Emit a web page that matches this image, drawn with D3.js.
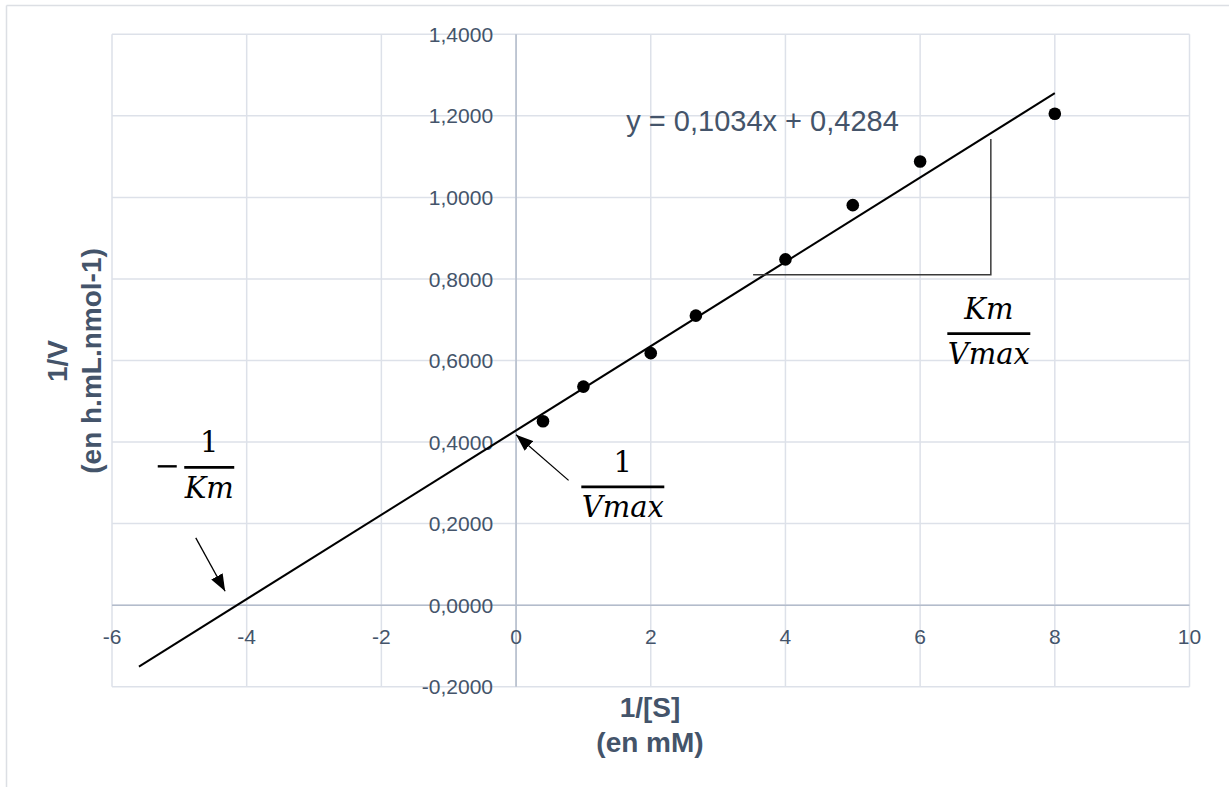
<!DOCTYPE html>
<html><head><meta charset="utf-8">
<script src="https://cdn.jsdelivr.net/npm/d3@7"></script>
<style>html,body{margin:0;padding:0;background:#fff;}</style>
</head><body>
<svg id="chart" width="1229" height="787"></svg>
<script>
// ---- data ----
const invS = [0.4, 1, 2, 2.67, 4, 5, 6, 8];           // 1/[S] (mM^-1)
const invV = [0.451, 0.536, 0.618, 0.710, 0.848, 0.981, 1.088, 1.205]; // 1/V
const slope = 0.1034, intercept = 0.4284;              // trendline y = a x + b
const trendRange = [-5.6, 8];                           // trendline extent (x)
const xTicks = [-6, -4, -2, 0, 2, 4, 6, 8, 10];
const yTicks = [-0.2, 0, 0.2, 0.4, 0.6, 0.8, 1.0, 1.2, 1.4];
const xTitle = ["1/[S]", "(en mM)"];
const yTitle = ["1/V", "(en h.mL.nmol-1)"];
const eqLabel = "y = 0,1034x + 0,4284";

// ---- layout ----
const svg = d3.select("#chart");
const x = d3.scaleLinear().domain([-6, 10]).range([112, 1189.5]);
const y = d3.scaleLinear().domain([-0.2, 1.4]).range([686.7, 34.3]);
const textCol = "#44546a";

// outer chart border (top & left visible)
svg.append("line").attr("x1", 6.5).attr("x2", 1229).attr("y1", 5.5).attr("y2", 5.5)
  .attr("stroke", "#dcdfe4").attr("stroke-width", 1.5);
svg.append("line").attr("x1", 6.5).attr("x2", 6.5).attr("y1", 5.5).attr("y2", 787)
  .attr("stroke", "#dcdfe4").attr("stroke-width", 1.5);

// gridlines
const grid = svg.append("g");
grid.selectAll("line.v").data(xTicks).join("line")
  .attr("x1", d => x(d)).attr("x2", d => x(d))
  .attr("y1", y(1.4)).attr("y2", y(-0.2))
  .attr("stroke", "#dde1e9").attr("stroke-width", 1.5);
grid.selectAll("line.h").data(yTicks).join("line")
  .attr("x1", x(-6)).attr("x2", x(10))
  .attr("y1", d => y(d)).attr("y2", d => y(d))
  .attr("stroke", "#dde1e9").attr("stroke-width", 1.5);
// axes (x = 0, y = 0)
svg.append("line").attr("x1", x(0)).attr("x2", x(0)).attr("y1", y(1.4)).attr("y2", y(-0.2))
  .attr("stroke", "#b3bccb").attr("stroke-width", 1.5);
svg.append("line").attr("x1", x(-6)).attr("x2", x(10)).attr("y1", y(0)).attr("y2", y(0))
  .attr("stroke", "#b3bccb").attr("stroke-width", 1.5);

// tick labels
const fmtY = d => d.toFixed(4).replace(".", ",");
svg.append("g").selectAll("text").data(yTicks).join("text")
  .attr("x", x(0) - 23).attr("y", d => y(d)).attr("dy", "0.36em")
  .attr("text-anchor", "end")
  .style("font", "21px 'Liberation Sans', Arial, sans-serif").attr("fill", textCol)
  .text(fmtY);
svg.append("g").selectAll("text").data(xTicks).join("text")
  .attr("x", d => x(d)).attr("y", y(0) + 38.5)
  .attr("text-anchor", "middle")
  .style("font", "21px 'Liberation Sans', Arial, sans-serif").attr("fill", textCol)
  .text(d => String(d));

// axis titles
const xt = svg.append("text").attr("text-anchor", "middle")
  .style("font", "bold 28px 'Liberation Sans', Arial, sans-serif").attr("fill", textCol);
xt.selectAll("tspan").data(xTitle).join("tspan")
  .attr("x", 650).attr("y", (d, i) => 717 + i * 35).text(d => d);
const yt = svg.append("text").attr("text-anchor", "middle")
  .attr("transform", "translate(0,361) rotate(-90)")
  .style("font", "bold 28px 'Liberation Sans', Arial, sans-serif").attr("fill", textCol);
yt.selectAll("tspan").data(yTitle).join("tspan")
  .attr("x", 0).attr("y", (d, i) => 67 + i * 34).text(d => d);

// trendline
svg.append("line")
  .attr("x1", x(trendRange[0])).attr("y1", y(slope * trendRange[0] + intercept))
  .attr("x2", x(trendRange[1])).attr("y2", y(slope * trendRange[1] + intercept))
  .attr("stroke", "#000").attr("stroke-width", 2);

// points
svg.append("g").selectAll("circle").data(invS).join("circle")
  .attr("cx", d => x(d)).attr("cy", (d, i) => y(invV[i])).attr("r", 6.3).attr("fill", "#000");

// equation label
svg.append("text").attr("x", x(1.637)).attr("y", y(1.164))
  .style("font", "29px 'Liberation Sans', Arial, sans-serif").attr("fill", textCol)
  .text(eqLabel);

// slope triangle
svg.append("path")
  .attr("d", `M${x(3.52)},${y(0.81)} L${x(7.05)},${y(0.81)} L${x(7.05)},${y(1.143)}`)
  .attr("fill", "none").attr("stroke", "#3a3a3a").attr("stroke-width", 1.5);

// arrow marker
svg.append("defs").append("marker").attr("id", "ah")
  .attr("viewBox", "0 0 10 10").attr("refX", 10).attr("refY", 5)
  .attr("markerWidth", 17).attr("markerHeight", 13).attr("markerUnits", "userSpaceOnUse")
  .attr("preserveAspectRatio", "none")
  .attr("orient", "auto")
  .append("path").attr("d", "M0,0 L10,5 L0,10 Z").attr("fill", "#000");

function arrow(from, to) {
  svg.append("line")
    .attr("x1", x(from[0])).attr("y1", y(from[1]))
    .attr("x2", x(to[0])).attr("y2", y(to[1]))
    .attr("stroke", "#000").attr("stroke-width", 1.3)
    .attr("marker-end", "url(#ah)");
}
arrow([0.78, 0.306], [0, 0.418]);
arrow([-4.756, 0.165], [-4.32, 0.034]);

// fractions
const mathFont = "italic 29px 'DejaVu Serif', serif";
function fraction(cx, barY, num, den, halfW, numItalic) {
  const px = x(cx), py = y(barY);
  svg.append("line").attr("x1", px - halfW).attr("x2", px + halfW)
    .attr("y1", py).attr("y2", py).attr("stroke", "#000").attr("stroke-width", 2.6);
  svg.append("text").attr("x", px).attr("y", py - 15).attr("text-anchor", "middle")
    .style("font", numItalic ? mathFont : "29px 'DejaVu Serif', serif").attr("fill", "#000").text(num);
  svg.append("text").attr("x", px).attr("y", py + 30.5).attr("text-anchor", "middle")
    .style("font", mathFont).attr("fill", "#000").text(den);
}
fraction(1.585, 0.29, "1", "Vmax", 41.5, false);
fraction(7.02, 0.666, "Km", "Vmax", 41.5, true);
fraction(-4.556, 0.338, "1", "Km", 25, false);
// minus sign of -1/Km
svg.append("line").attr("x1", x(-4.556) - 51.5).attr("x2", x(-4.556) - 32.5)
  .attr("y1", y(0.338) - 1).attr("y2", y(0.338) - 1).attr("stroke", "#000").attr("stroke-width", 2.4);
</script>
</body></html>
